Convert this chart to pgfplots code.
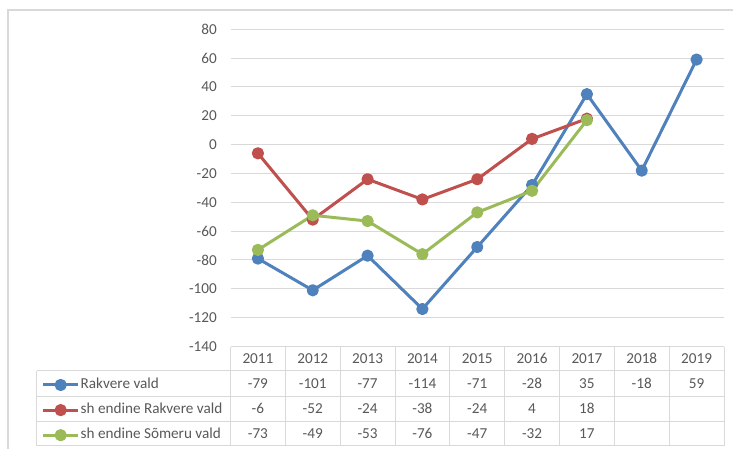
\documentclass[border=0pt]{standalone}
\usepackage{pgfplots}
\pgfplotsset{compat=1.18}
\usepackage{fontspec}
\setmainfont{Carlito}
\definecolor{cblue}{HTML}{4F81BD}
\definecolor{cred}{HTML}{C0504D}
\definecolor{cgreen}{HTML}{9BBB59}
\definecolor{gridc}{HTML}{D9D9D9}
\definecolor{textc}{HTML}{595959}
\begin{document}
\begin{tikzpicture}[x=1pt,y=1pt, font=\fontsize{15.2pt}{18pt}\selectfont]
\fill[white] (0,0) rectangle (733,449);
\path[use as bounding box] (0,0) rectangle (733,449);
\draw[gridc, line width=1.5pt] (8,0) -- (8,439) -- (733,439);
\begin{axis}[at={(230.5pt,102.5pt)}, anchor=south west, scale only axis,
  width=493.5pt, height=317.2pt,
  xmin=-0.5, xmax=8.5, ymin=-140, ymax=80,
  ytick={-140,-120,-100,-80,-60,-40,-20,0,20,40,60,80},
  yticklabels={-140,-120,-100,-80,-60,-40,-20,0,20,40,60,80},
  xtick=\empty,
  axis line style={draw=none}, major tick length=0pt,
  ymajorgrids, grid style={gridc, line width=1pt},
  yticklabel style={anchor=east, inner sep=0pt, xshift=-13.5pt, text=textc, font=\fontsize{15.2pt}{18pt}\selectfont},
  clip=false,
  legend style={at={(-0.3826,-0.0993)}, anchor=north west, draw=none, fill=none,
    inner sep=0pt, outer sep=0pt, row sep=11.1pt, column sep=1pt,
    font=\fontsize{15.2pt}{18pt}\selectfont,
    nodes={inner sep=0pt, text height=10.5pt, text depth=3.5pt, text=textc}},
  legend cell align=left,
  legend image code/.code={\draw[mark repeat=2,mark phase=2,#1] plot coordinates {(0pt,0pt) (17.5pt,0pt) (35pt,0pt)};},
  every axis plot/.append style={line width=3pt, line join=round, mark=*, mark size=4.6pt, mark options={solid}},
]
\addplot[cblue] coordinates {(0,-79)(1,-101)(2,-77)(3,-114)(4,-71)(5,-28)(6,35)(7,-18)(8,59)};
\addlegendentry{Rakvere vald}
\addplot[cred] coordinates {(0,-6)(1,-52)(2,-24)(3,-38)(4,-24)(5,4)(6,18)};
\addlegendentry{sh endine Rakvere vald}
\addplot[cgreen] coordinates {(0,-73)(1,-49)(2,-53)(3,-76)(4,-47)(5,-32)(6,17)};
\addlegendentry{sh endine Sõmeru vald}
\end{axis}
% data table grid
\begin{scope}[gridc, line width=1pt]
\draw (230.5,{449-347}) -- (724,{449-347});
\foreach \yy in {371,396.5,421.5,446} \draw (36.7,{449-\yy}) -- (724,{449-\yy});
\draw (36.7,{449-371}) -- (36.7,{449-446});
\foreach \k in {0,...,9} \draw ({230.5+54.833*\k},{449-347}) -- ({230.5+54.833*\k},{449-446});
\end{scope}
\begin{scope}[every node/.style={text=textc, anchor=base, inner sep=0pt, font=\fontsize{15.2pt}{18pt}\selectfont}]
\foreach \i/\t in {0/2011,1/2012,2/2013,3/2014,4/2015,5/2016,6/2017,7/2018,8/2019}
  \node at ({230.5+54.833*(\i+0.5)},85.2) {\t};
\foreach \i/\t in {0/-79,1/-101,2/-77,3/-114,4/-71,5/-28,6/35,7/-18,8/59}
  \node at ({230.5+54.833*(\i+0.5)},60.3) {\t};
\foreach \i/\t in {0/-6,1/-52,2/-24,3/-38,4/-24,5/4,6/18}
  \node at ({230.5+54.833*(\i+0.5)},35.2) {\t};
\foreach \i/\t in {0/-73,1/-49,2/-53,3/-76,4/-47,5/-32,6/17}
  \node at ({230.5+54.833*(\i+0.5)},10.2) {\t};
\end{scope}
\end{tikzpicture}
\end{document}
